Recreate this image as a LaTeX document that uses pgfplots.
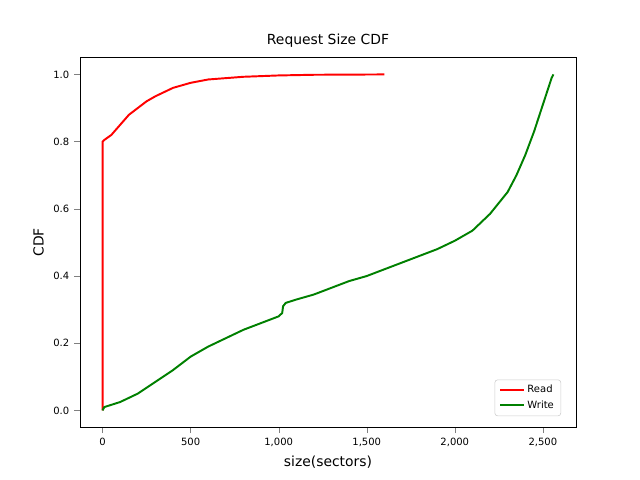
\documentclass[border=0pt]{standalone}
\usepackage{pgfplots}
\pgfplotsset{compat=1.18}
\usepackage{fontspec}
\setmainfont{DejaVu Sans}
\begin{document}
\begin{tikzpicture}
\useasboundingbox (-57.6pt,-38.0pt) rectangle (403.2pt,307.6pt);
\begin{axis}[
  at={(0,0)}, anchor=south west,
  scale only axis, width=357.1pt, height=266.1pt,
  xmin=-128, xmax=2688, ymin=-0.05, ymax=1.05,
  xtick={0,500,1000,1500,2000,2500},
  ytick={0,0.2,0.4,0.6,0.8,1.0},
  yticklabel style={/pgf/number format/.cd,fixed,fixed zerofill,precision=1},
  /pgf/number format/assume math mode=true,
  ticklabel style={font=\fontsize{7.2}{8}\selectfont},
  tick align=outside, tick pos=left,
  title={Request Size CDF}, title style={font=\fontsize{10}{12}\selectfont, yshift=-2pt},
  xlabel={size(sectors)}, ylabel={CDF},
  label style={font=\fontsize{10}{12}\selectfont},
  legend pos=south east,
  legend style={font=\fontsize{7.2}{8}\selectfont, draw=black!20, rounded corners=2pt, cells={anchor=west}},
  legend cell align=left,
]
\addplot[red, line width=1.4pt] coordinates {
(0,0) (0,0.8) (10,0.805) (50,0.82) (100,0.85) (150,0.88) (200,0.90) (250,0.92) (300,0.935) (400,0.96) (500,0.975) (600,0.985) (800,0.993) (1000,0.997) (1200,0.999) (1600,1.0)};
\addlegendentry{Read}
\addplot[green!50!black, line width=1.4pt] coordinates {
(0,0) (10,0.01) (100,0.025) (200,0.05) (300,0.085) (400,0.12) (500,0.16) (600,0.19) (700,0.215) (800,0.24) (900,0.26) (1000,0.28) (1020,0.29) (1025,0.31) (1040,0.32) (1100,0.33) (1200,0.345) (1300,0.365) (1400,0.385) (1500,0.40) (1600,0.42) (1700,0.44) (1800,0.46) (1900,0.48) (2000,0.505) (2100,0.535) (2200,0.585) (2300,0.65) (2350,0.70) (2400,0.76) (2450,0.83) (2500,0.91) (2550,0.99) (2560,1.0)};
\addlegendentry{Write}
\end{axis}
\end{tikzpicture}
\end{document}
